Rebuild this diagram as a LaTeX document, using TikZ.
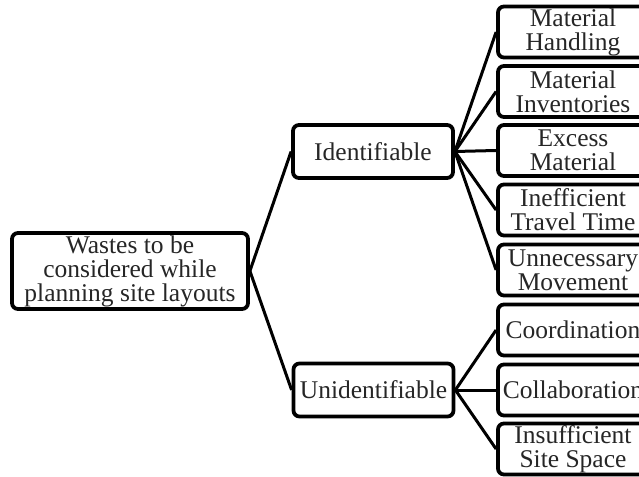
\documentclass[tikz,border=0pt]{standalone}
\usepackage{fontspec}
\setmainfont{Liberation Serif}
\begin{document}
\begin{tikzpicture}[x=1bp,y=-1bp,
  box/.style={draw=black, line width=3.8bp, rounded corners=6bp, fill=white,
    align=center, inner sep=0pt, font=\fontsize{25.5bp}{24bp}\selectfont, text=black!85},
  rootbox/.style={box, minimum width=236bp, minimum height=76bp},
  midbox/.style={box, minimum width=160bp, minimum height=53bp},
  leafbox/.style={box, minimum width=150bp, minimum height=51bp},
  conn/.style={draw=black, line width=3bp}]
\useasboundingbox (0,0) rectangle (639,477);
\clip (0,0) rectangle (639,477);
\node[rootbox] (root) at (130,271) {Wastes to be\\considered while\\planning site layouts};
\node[midbox] (ident) at (373,151.5) {Identifiable};
\node[midbox] (unid) at (373.5,390) {Unidentifiable};
\node[leafbox] (mh) at (573,32) {Material\\Handling};
\node[leafbox] (mi) at (573,91.5) {Material\\Inventories};
\node[leafbox] (em) at (573,150.5) {Excess\\Material};
\node[leafbox] (it) at (573,210) {Inefficient\\Travel Time};
\node[leafbox] (um) at (573,270) {Unnecessary\\Movement};
\node[leafbox] (co) at (573,330) {Coordination};
\node[leafbox] (cl) at (573,390) {Collaboration};
\node[leafbox] (is) at (573,449) {Insufficient\\Site Space};
\begin{scope}[on background layer/.try]
\end{scope}
\foreach \a/\b in {root/ident, root/unid, ident/mh, ident/mi, ident/em, ident/it, ident/um, unid/co, unid/cl, unid/is}
  \draw[conn] (\a.east) -- (\b.west);
\end{tikzpicture}
\end{document}
